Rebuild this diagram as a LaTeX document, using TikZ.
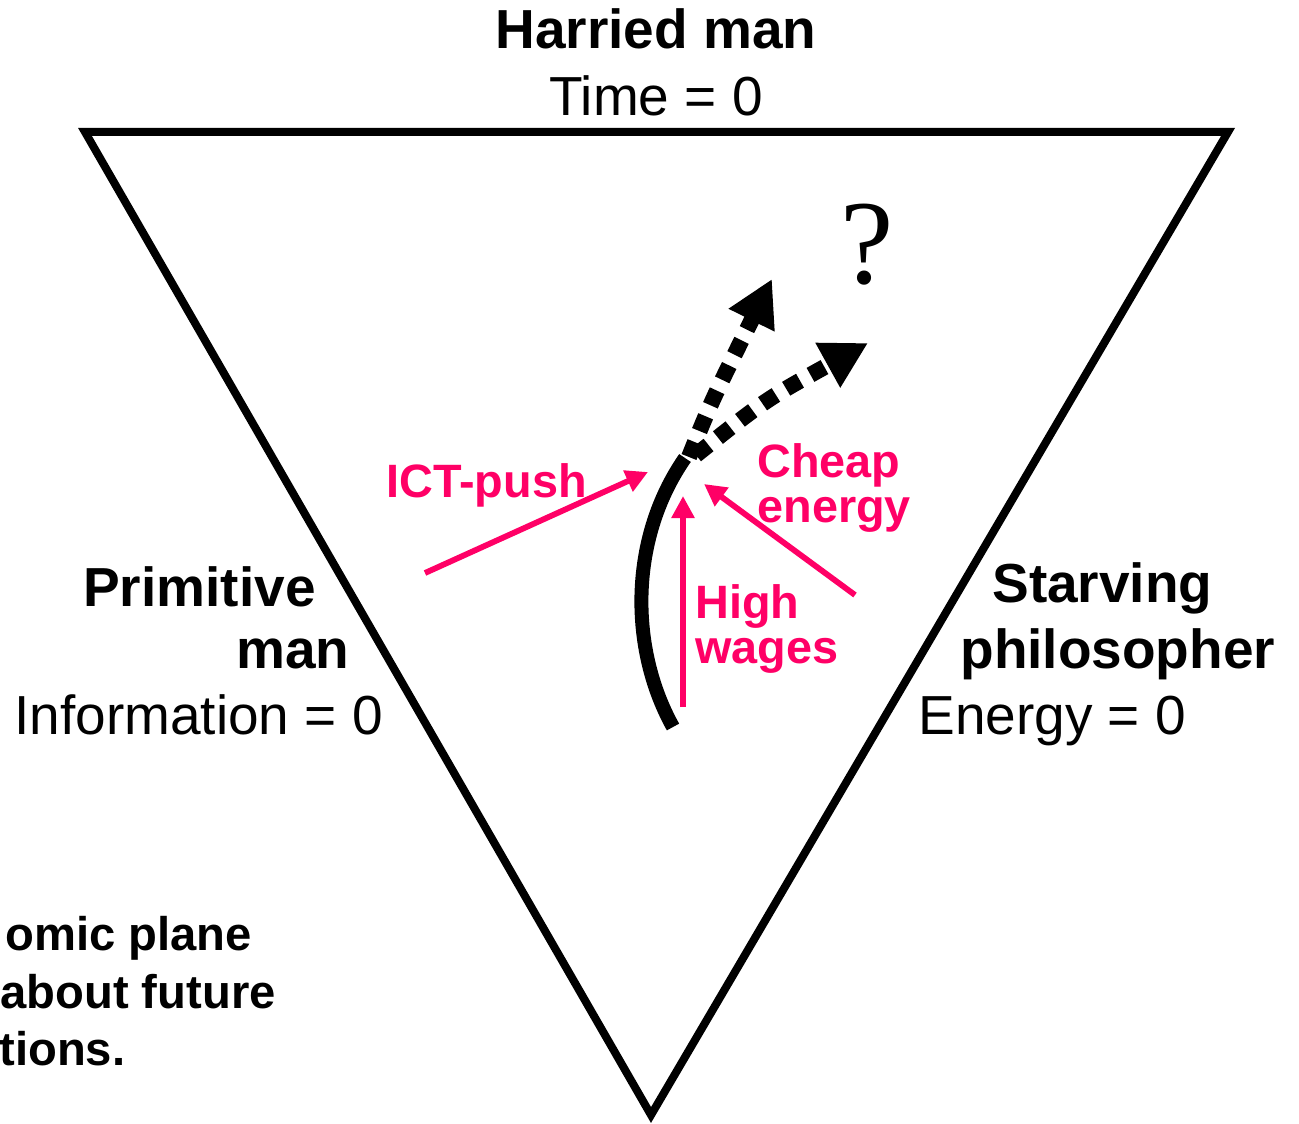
\documentclass[tikz,border=0pt]{standalone}
\usepackage{fontspec}
\setmainfont{Liberation Sans}
\newfontfamily\qfont{Liberation Serif}
\usetikzlibrary{arrows.meta}
\definecolor{hotpink}{RGB}{255,0,102}

\tikzset{
  corner/.style={font=\fontsize{27.5}{33}\selectfont\bfseries, inner sep=0pt},
  zero/.style={font=\fontsize{27.5}{33}\selectfont, inner sep=0pt},
  push/.style={font=\fontsize{23.4}{28}\selectfont\bfseries, text=hotpink, inner sep=0pt},
  note/.style={font=\fontsize{23.6}{28}\selectfont\bfseries, inner sep=0pt},
  pusharrow/.style={draw=hotpink, line width=2.9pt, -{Triangle[length=11pt,width=11pt]}},
  future/.style={line width=8pt, dash pattern=on 8pt off 6pt, -{Triangle[length=23pt,width=24pt]}}
}

\begin{document}
\begin{tikzpicture}[x=0.5pt,y=-0.5pt]
\useasboundingbox (0,0) rectangle (1299,1123);

% plane
\draw[line width=4pt] (85,132) -- (1228,132) -- (651,1115) -- cycle;

% corners
\node[corner,anchor=base] (harried) at (656,49) {Harried man};
\node[zero,anchor=base] (time) at (656,116) {Time = 0};

\node[corner,anchor=base east] (prim1) at (316,606) {Primitive};
\node[corner,anchor=base east] (prim2) at (350,668) {man};
\node[zero,anchor=base west] (info) at (14,734) {Information = 0};

\node[corner,anchor=base west] (starv1) at (992,602) {Starving};
\node[corner,anchor=base west] (starv2) at (960,668) {philosopher};
\node[zero,anchor=base west] (energy) at (918,734) {Energy = 0};

% note
\node[note,anchor=base west] (note1) at (5,950) {omic plane};
\node[note,anchor=base west] (note2) at (0,1008) {about future};
\node[note,anchor=base west] (note3) at (-1,1065) {tions.};

% trend so far
\coordinate (past) at (673,727);
\coordinate (now) at (685,458);
\draw[line width=7pt] (past) .. controls (630,650) and (628,540) .. (now);

% futures
\coordinate (fut1) at (772,279);
\coordinate (fut2) at (868,343);
\draw[future] (689,457) .. controls (712,400) .. (fut1);
\draw[future] (696,455) .. controls (765,400) .. (fut2);
\node[font=\qfont\fontsize{60}{60}\selectfont, inner sep=0pt, anchor=base] (ask) at (867,283) {?};

% forces
\coordinate (ictfrom) at (425,573);
\coordinate (ictto) at (648,472);
\draw[pusharrow] (ictfrom) -- (ictto);
\node[push,anchor=base west] (ict) at (386,497) {ICT-push};

\coordinate (wagefrom) at (683,707);
\coordinate (wageto) at (683,496);
\draw[pusharrow] (wagefrom) -- (wageto);
\node[push,anchor=base west] (high) at (695,618) {High};
\node[push,anchor=base west] (wages) at (695,663) {wages};

\coordinate (enfrom) at (855,595);
\coordinate (ento) at (704,484);
\draw[pusharrow] (enfrom) -- (ento);
\node[push,anchor=base west] (cheap) at (757,477) {Cheap};
\node[push,anchor=base west] (en) at (757,522) {energy};
\end{tikzpicture}
\end{document}
